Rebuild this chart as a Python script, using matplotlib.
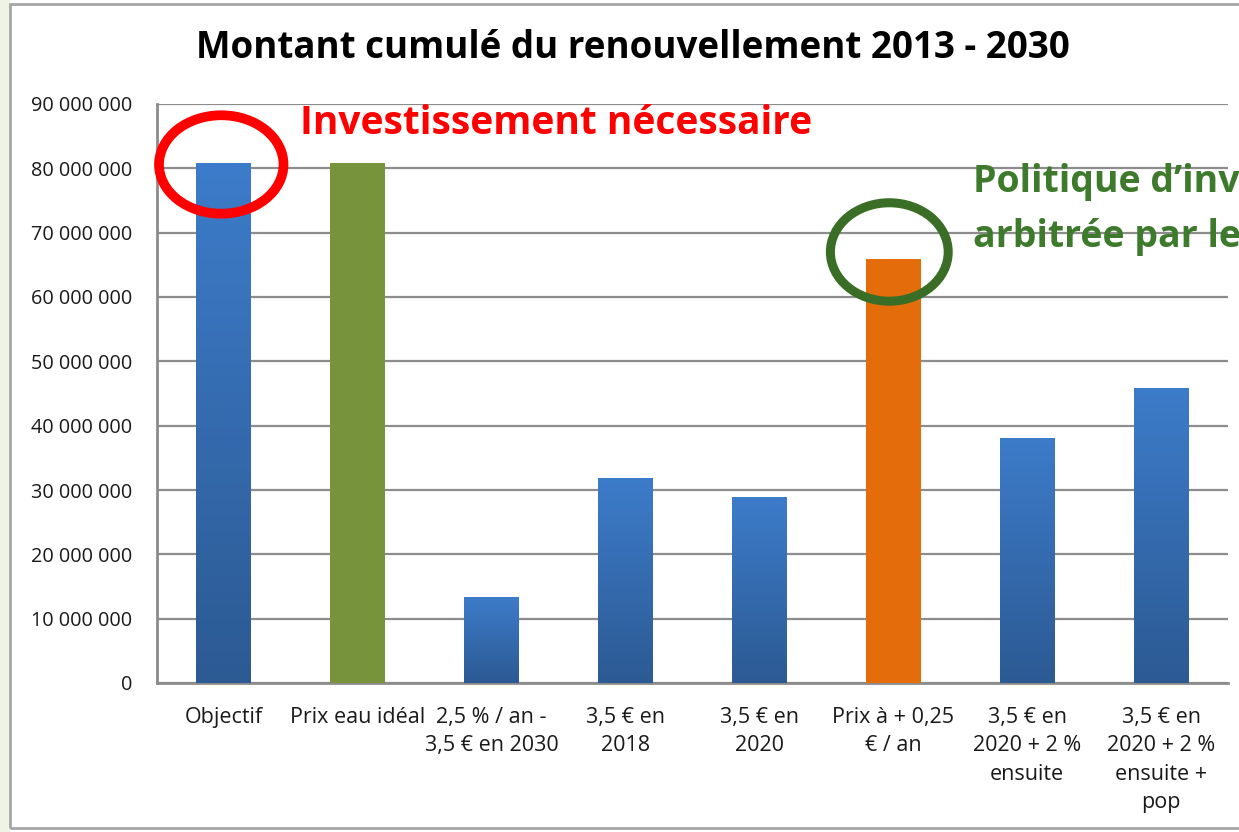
import numpy as np
import matplotlib.pyplot as plt
from matplotlib.patches import Ellipse, Rectangle
from matplotlib.ticker import FuncFormatter
from matplotlib.colors import LinearSegmentedColormap

categories = [
    "Objectif",
    "Prix eau idéal",
    "2,5 % / an -\n3,5 € en 2030",
    "3,5 € en\n2018",
    "3,5 € en\n2020",
    "Prix à + 0,25\n€ / an",
    "3,5 € en\n2020 + 2 %\nensuite",
    "3,5 € en\n2020 + 2 %\nensuite +\npop",
]
values = [80.8e6, 80.8e6, 13.4e6, 31.8e6, 28.9e6, 65.9e6, 38.1e6, 45.9e6]
bar_styles = ["blue", "green", "blue", "blue", "blue", "orange", "blue", "blue"]

title = "Montant cumulé du renouvellement 2013 - 2030"
note_red = "Investissement nécessaire"
note_green = ["Politique d\u2019investissement", "arbitrée par les élus"]

plt.rcParams['font.family'] = ['Open Sans', 'DejaVu Sans']

fig = plt.figure(figsize=(12.39, 8.32), dpi=100)
fig.patch.set_facecolor('white')

# slide background strip + chart frame
fig.patches.append(Rectangle((0, 0), 10 / 1239, 1, transform=fig.transFigure,
                             facecolor='#EEF3E6', edgecolor='none', zorder=0))
fig.patches.append(Rectangle((10 / 1239, 4 / 832), 1.0, 824 / 832, transform=fig.transFigure,
                             facecolor='none', edgecolor='#A6A6A6', linewidth=2, zorder=1))

ax = fig.add_axes([157 / 1239, 149 / 832, (1228 - 157) / 1239, (683 - 104) / 832])
ax.set_facecolor('none')

x = np.arange(len(categories))
width = 0.41
flat = {"green": "#77933C", "orange": "#E46C0A"}
grad = np.linspace(0, 1, 256).reshape(-1, 1)
blue_cmap = LinearSegmentedColormap.from_list("bl", ["#2C5A93", "#3D7CCA"])

for xi, v, st in zip(x, values, bar_styles):
    if st == "blue":
        # vertical gradient clipped to the bar
        bar = ax.bar(xi, v, width=width, color='none', edgecolor='none', zorder=3)[0]
        im = ax.imshow(grad, extent=(xi - width / 2, xi + width / 2, 0, v), origin='lower',
                       cmap=blue_cmap, aspect='auto', zorder=3)
        im.set_clip_path(bar)
    else:
        ax.bar(xi, v, width=width, color=flat[st], edgecolor='none', zorder=3)

ax.set_xlim(-0.5, len(categories) - 0.5)
ax.set_ylim(0, 90e6)
ax.set_yticks(np.arange(0, 90e6 + 1, 10e6))
ax.yaxis.set_major_formatter(FuncFormatter(lambda v, p: f"{int(v):,}".replace(",", " ")))
ax.set_xticks(x)
ax.set_xticklabels(categories, fontsize=15.5, color='#1a1a1a', linespacing=1.47, va='top')
ax.tick_params(axis='y', length=0, pad=18, labelsize=14.3, labelcolor='#1a1a1a')
ax.tick_params(axis='x', length=0, pad=17)
ax.grid(axis='y', color='#8C8C8C', linewidth=1.6, zorder=0)
ax.set_axisbelow(True)
for s in ['top', 'right']:
    ax.spines[s].set_visible(False)
for s in ['left', 'bottom']:
    ax.spines[s].set_color('#8C8C8C')
    ax.spines[s].set_linewidth(2)

# highlight ellipses
ax.add_patch(Ellipse((-0.02, 80.6e6), 0.93, 15.3e6, fill=False, edgecolor='#FF0000',
                     linewidth=7, zorder=5, clip_on=False))
ax.add_patch(Ellipse((4.97, 67.0e6), 0.88, 15.3e6, fill=False, edgecolor='#3A6E26',
                     linewidth=6.5, zorder=5, clip_on=False))

fig.text(633 / 1239, 1 - 48 / 832, title, ha='center', va='center', fontsize=26.5,
         fontweight='bold', color='black')
fig.text(300 / 1239, 1 - 123 / 832, note_red, ha='left', va='center', fontsize=28,
         fontweight='bold', color='#FF0000')
fig.text(973 / 1239, 1 - 182 / 832, note_green[0], ha='left', va='center', fontsize=27,
         fontweight='bold', color='#3E7A2C')
fig.text(973 / 1239, 1 - 237 / 832, note_green[1], ha='left', va='center', fontsize=27,
         fontweight='bold', color='#3E7A2C')

fig.savefig('out.png', dpi=100)
